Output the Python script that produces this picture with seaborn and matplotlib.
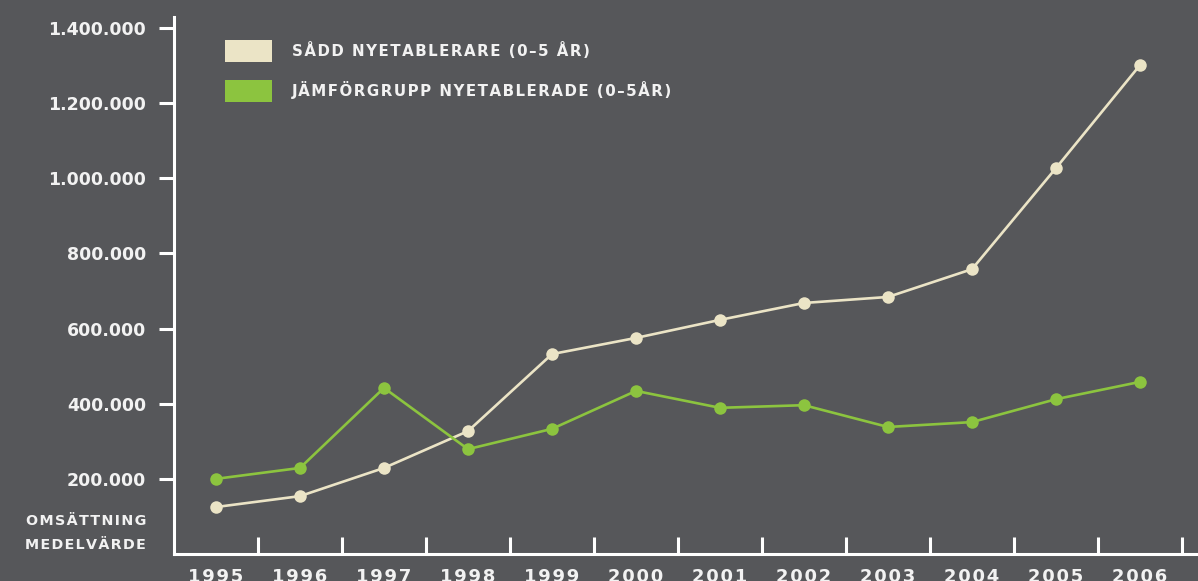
import matplotlib
matplotlib.use("Agg")
import matplotlib.pyplot as plt
import matplotlib.ticker as mticker
from matplotlib.patches import Patch
import pandas as pd
import seaborn as sns

# -----------------------------------------------
# DATA
# -----------------------------------------------
years = [1995, 1996, 1997, 1998, 1999, 2000, 2001, 2002, 2003, 2004, 2005, 2006]
sadd = [125000, 154000, 229000, 327000, 532000, 575000, 623000, 668000,
        684000, 758000, 1027000, 1301000]
jamfor = [200000, 229000, 442000, 279000, 333000, 434000, 389000, 396000,
          338000, 351000, 412000, 458000]
series_names = ["SÅDD NYETABLERARE (0–5 ÅR)", "JÄMFÖRGRUPP NYETABLERADE (0–5ÅR)"]
y_ticks = [200000, 400000, 600000, 800000, 1000000, 1200000, 1400000]

BG = "#56575a"
BEIGE = "#ebe4c6"
GREEN = "#8cc43f"
TXT = "#f2f2f2"

sns.set_theme(style="white")
plt.rcParams["font.family"] = ["DejaVu Sans"]


def spaced(s):
    # rough letter spacing with hair spaces
    return "\u200a".join(s)


df = pd.DataFrame({
    "idx": list(range(len(years))) * 2,
    "value": sadd + jamfor,
    "serie": [series_names[0]] * len(years) + [series_names[1]] * len(years),
})

fig = plt.figure(figsize=(11.98, 5.81), dpi=100, facecolor=BG)
ax = fig.add_axes([174 / 1198, 27 / 581, 1 - 174 / 1198, (554 - 17) / 581])
ax.set_facecolor(BG)

sns.lineplot(data=df, x="idx", y="value", hue="serie",
             palette=[BEIGE, GREEN], marker="o", markersize=9,
             markeredgewidth=0, linewidth=1.9, legend=False, ax=ax)

ax.set_xlim(-0.5, (1198 - 216) / 84)
ax.set_ylim(0, 1429000)

# spines
for side in ["top", "right"]:
    ax.spines[side].set_visible(False)
for side in ["left", "bottom"]:
    ax.spines[side].set_color("white")
    ax.spines[side].set_linewidth(2.2)

# y axis
ax.set_yticks(y_ticks)
ax.yaxis.set_major_formatter(
    mticker.FuncFormatter(lambda v, _: f"{int(v):,}".replace(",", "."))
)
ax.tick_params(axis="y", direction="out", length=11, width=2.2,
               color="white", labelcolor=TXT, labelsize=12.5, pad=9,
               left=True)
for lab in ax.get_yticklabels():
    lab.set_fontweight("bold")

# x axis: labels centred, tick marks between years pointing inward
ax.set_xticks(range(len(years)))
ax.set_xticklabels([spaced(str(y)) for y in years], fontweight="bold")
ax.set_xticks([i + 0.5 for i in range(len(years))], minor=True)
ax.tick_params(axis="x", which="major", length=0, labelcolor=TXT,
               labelsize=13, pad=10)
ax.tick_params(axis="x", which="minor", direction="in", length=12,
               width=2.2, color="white", bottom=True)
ax.set_xlabel("")
ax.set_ylabel("")

# legend
handles = [Patch(facecolor=BEIGE, edgecolor="none"),
           Patch(facecolor=GREEN, edgecolor="none")]
leg = fig.legend(handles, [spaced(n) for n in series_names],
                 loc="upper left", bbox_to_anchor=(225 / 1198, 1 - 40 / 581),
                 frameon=False, borderpad=0, borderaxespad=0,
                 handlelength=3.1, handleheight=1.88,
                 handletextpad=1.35, labelspacing=1.2,
                 prop={"weight": "bold", "size": 10.8})
for t in leg.get_texts():
    t.set_color(TXT)

# y label below ticks
fig.text(146 / 1198, 1 - 521 / 581, spaced("OMSÄTTNING"), ha="right",
         va="center", color=TXT, fontsize=10.3, fontweight="bold")
fig.text(146 / 1198, 1 - 545 / 581, spaced("MEDELVÄRDE"), ha="right",
         va="center", color=TXT, fontsize=10.3, fontweight="bold")

fig.savefig("out.png", dpi=100, facecolor=BG)
